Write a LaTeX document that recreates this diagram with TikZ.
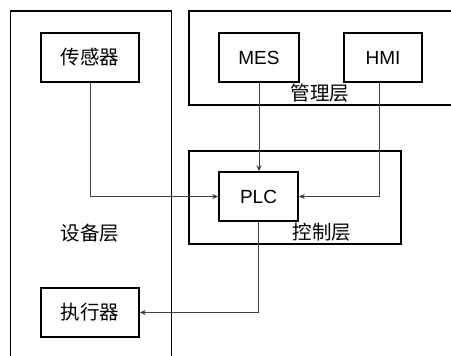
\documentclass[tikz,border=0pt]{standalone}
\usepackage{fontspec}
\setmainfont{Liberation Sans}
\newfontfamily\cjk{Noto Sans CJK SC}
\usetikzlibrary{arrows.meta}
\begin{document}
\begin{tikzpicture}[x=1pt,y=-1pt,
  layer/.style={draw=black,line width=1.5pt,minimum width=0pt,minimum height=0pt,inner sep=0pt},
  unit/.style={draw=black,line width=1.5pt,minimum width=78pt,minimum height=49pt,inner sep=0pt,font=\fontsize{19pt}{22pt}\selectfont},
  cjkfont/.style={font=\cjk\fontsize{19.5pt}{22pt}\selectfont},
  lbl/.style={cjkfont,inner sep=0pt},
  conn/.style={draw=black!75,line width=0.8pt,-{Stealth[length=6pt,width=5pt]}}]
\useasboundingbox (0,0) rectangle (451,356);
\fill[white] (0,0) rectangle (451,356);
\begin{scope}
\clip (0,0) rectangle (451,356);
\node[layer,anchor=north west,minimum width=161pt,minimum height=380pt] (dev) at (9.5,10) {};
\node[layer,anchor=north west,minimum width=300pt,minimum height=94pt] (mgmt) at (188,10) {};
\end{scope}
\node[layer,anchor=north west,minimum width=212pt,minimum height=93pt] (ctrl) at (188,150) {};
\node[unit,cjkfont,minimum width=98pt] (sensor) at (90,57.5) {传感器};
\node[unit,minimum width=80pt] (mes) at (259,57.5) {MES};
\node[unit,minimum width=78pt] (hmi) at (383,57.5) {HMI};
\node[unit,minimum width=79pt] (plc) at (258.5,196.5) {PLC};
\node[unit,cjkfont,minimum width=98pt] (act) at (90,312.5) {执行器};
\node[lbl] (mgmtlbl) at (320,93) {管理层};
\node[lbl] (ctrllbl) at (322,232) {控制层};
\node[lbl] (devlbl) at (90,233) {设备层};
\draw[conn] (sensor.south) |- (plc.west);
\draw[conn] (mes.south) -- (mes.south |- plc.north);
\draw[conn] (hmi.south -| 379,0) |- (plc.east);
\draw[conn] (plc.south) |- (act.east);
\end{tikzpicture}
\end{document}
